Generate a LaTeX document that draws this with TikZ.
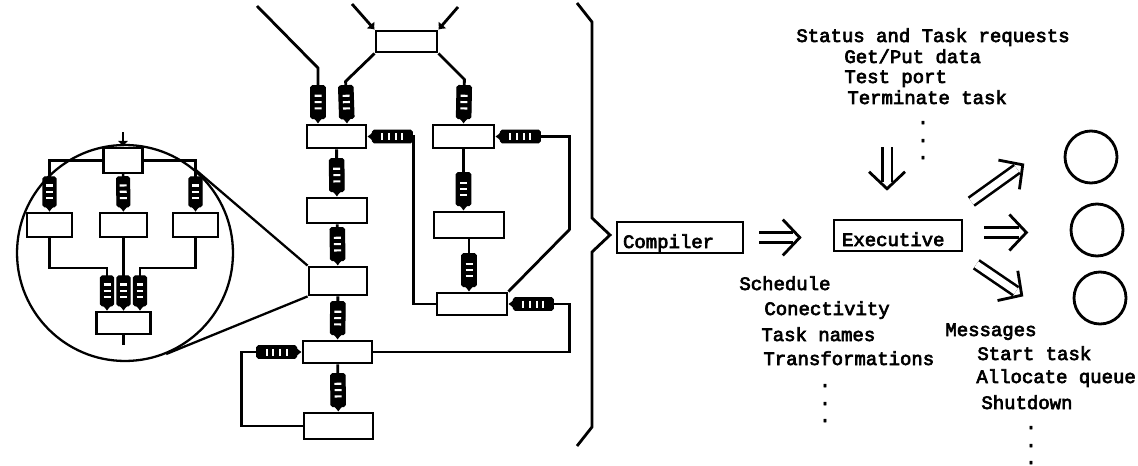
\documentclass[tikz,border=0pt]{standalone}
\usepackage{fontspec}
\setmonofont{Liberation Mono}[FakeBold=3.5]
\usetikzlibrary{arrows.meta,positioning,calc}

\newcommand{\qbar}{\rule[-0.07cm]{1.2pt}{0.14cm}}
\newcommand{\qbars}{\textcolor{white}{\qbar\hspace{2.4pt}\qbar\hspace{2.4pt}\qbar}}
\newcommand{\hqbars}{\textcolor{white}{\qbar\hspace{2.6pt}\qbar\hspace{2.6pt}\qbar\hspace{2.6pt}\qbar}}

\begin{document}
\begin{tikzpicture}[x=0.02cm, y=-0.02cm, line width=1.6pt,
  font=\ttfamily\fontsize{10.8}{13}\selectfont,
  task/.style={draw, rectangle, inner sep=0pt},
  flow/.style={-{Latex[length=0.12cm,width=0.22cm]}},
  queue/.style={fill=black, draw=black, line width=0.6pt, rounded corners=1pt, inner sep=0pt,
    minimum width=0.66cm, minimum height=0.29cm, outer xsep=0.1cm, outer ysep=0pt,
    pos=1, sloped, allow upside down, anchor=east},
  hqueue/.style={queue, minimum width=0.8cm, minimum height=0.25cm},
  sq/.style={queue, minimum width=0.6cm, minimum height=0.26cm},
  tbox/.style={draw, line width=1.5pt, minimum height=0.62cm, inner ysep=0pt, inner xsep=0.12cm,
    align=left, text height=0.42cm, text depth=0pt},
  dbl/.style={double, double distance=0.14cm, line width=1.5pt, shorten >=0.18cm},
  dblhead/.style={white, line width=0.1pt,
    -{Straight Barb[color=black, length=0.34cm, width=0.72cm, line width=1.6pt]}},
  lbl/.style={anchor=base west, inner sep=0pt},
  ]
\useasboundingbox (0,0) rectangle (1138,466);

% task graph
\node[task, minimum width=1.22cm, minimum height=0.42cm] (T) at (406.5,41.5) {};
\node[task, minimum width=1.18cm, minimum height=0.46cm] (A) at (336.5,136.5) {};
\node[task, minimum width=1.22cm, minimum height=0.46cm] (B) at (463.5,136.5) {};
\node[task, minimum width=1.2cm, minimum height=0.5cm] (D) at (337,210.5) {};
\node[task, minimum width=1.4cm, minimum height=0.52cm] (C) at (469,225) {};
\node[task, minimum width=1.16cm, minimum height=0.56cm] (M) at (338,281) {};
\node[task, minimum width=1.4cm, minimum height=0.44cm] (E) at (472,304) {};
\node[task, minimum width=1.38cm, minimum height=0.44cm] (G) at (337.5,352) {};
\node[task, minimum width=1.38cm, minimum height=0.52cm] (H) at (338.5,426) {};

\coordinate (in1) at (257,6);
\coordinate (in2) at (352,4);
\coordinate (in3) at (458,7);
\draw[flow] (in2) -- (T.north west);
\draw[flow] (in3) -- (T.north east);
\draw[flow] (in1) -- (318,68) -- node[queue]{\qbars} ([xshift=-0.37cm]A.north);
\draw[flow] (T.south west) -- ++(-29,28) -- node[queue]{\qbars} ([xshift=0.21cm]A.north);
\draw[flow] (T.south east) -- ++(26,26) -- node[queue]{\qbars} (B.north);
\draw[flow] (A) -- node[queue]{\qbars} (D);
\draw[flow] (D) -- node[queue]{\qbars} (M);
\draw[flow] (M) -- node[queue]{\qbars} (G);
\draw[flow] (G) -- node[queue]{\qbars} (H);
\draw[flow] (B.south) -- node[queue]{\qbars} (B.south |- C.north);
\draw[flow] (C.south) -- node[queue]{\qbars} (C.south |- E.north);
\draw[flow] (E.west) -- ++(-22,0) |- node[hqueue]{\hqbars} (A.east);
\draw[flow] (E.north east) -- ++(61,-62) |- node[hqueue]{\hqbars} (B.east);
\draw[flow] (G.east) -- ++(196,0) |- node[hqueue]{\hqbars} (E.east);
\draw[flow] (H.west) -- ++(-61,0) |- node[hqueue]{\hqbars} (G.west);

% zoom lens on M
\node[draw, circle, line width=1.3pt, minimum size=4.32cm, inner sep=0pt] (lens) at (125,253) {};
\draw[line width=1.3pt] (M.north west) -- (tangent cs:node=lens,point={(M.north west)},solution=1);
\draw[line width=1.3pt] (M.south west) -- (tangent cs:node=lens,point={(M.south west)},solution=2);

\begin{scope}[line width=1.4pt]
\node[task, minimum width=0.78cm, minimum height=0.5cm] (lt) at (123,160.5) {};
\node[task, minimum width=0.9cm, minimum height=0.48cm] (l1) at (49.5,225) {};
\node[task, minimum width=0.94cm, minimum height=0.48cm] (l2) at (123.5,225) {};
\node[task, minimum width=0.9cm, minimum height=0.48cm] (l3) at (195.5,225) {};
\node[task, minimum width=1.08cm, minimum height=0.44cm] (lb) at (123.5,323) {};
\coordinate (lin) at (123,132);
\coordinate (lout) at (123.5,345);
\draw[flow] (lin) -- (lt);
\draw[flow] (lt.west) -| node[sq]{\qbars} (l1.north);
\draw[flow] (lt) -- node[sq]{\qbars} (l2);
\draw[flow] (lt.east) -| node[sq]{\qbars} (l3.north);
\draw[flow] (l1.south) -- ++(0,30) -| node[sq]{\qbars} ([xshift=-0.33cm]lb.north);
\draw[flow] (l2) -- node[sq]{\qbars} (l2 |- lb.north);
\draw[flow] (l3.south) -- ++(0,30) -| node[sq]{\qbars} ([xshift=0.33cm]lb.north);
\draw (lb) -- (lout);
\end{scope}

% brace
\draw (577,3) -- (592,22) -- (592,218) -- (610,235) -- (592,252) -- (592,427) -- (577,446);

% compiler and executive
\node[tbox, text width=2.28cm, minimum width=2.52cm] (comp) at (680,237.5) {Compiler};
\node[tbox, text width=2.24cm, minimum width=2.56cm, inner xsep=0.16cm] (exec) at (898,235.5) {Executive};
\draw[dbl, shorten <=0.3cm, shorten >=0.8cm] (comp.east) -- (comp.east -| exec.west);
\draw[dblhead, shorten <=0.3cm, shorten >=0.62cm] (comp.east) -- (comp.east -| exec.west);
\coordinate (reqarr) at (887,147);
\draw[dbl, shorten >=0.74cm] (reqarr) -- (reqarr |- exec.north);
\draw[dblhead, shorten >=0.56cm] (reqarr) -- (reqarr |- exec.north);
\draw[dbl] ([shift={(8,-17)}]exec.north east) -- ++(53,-38);
\draw[dblhead] ([shift={(8,-17)}]exec.north east) -- ++(53,-38);
\draw[dbl] ([shift={(21,-3)}]exec.east) -- ++(44,0);
\draw[dblhead] ([shift={(21,-3)}]exec.east) -- ++(44,0);
\draw[dbl] ([shift={(13,12)}]exec.south east) -- ++(47,32);
\draw[dblhead] ([shift={(13,12)}]exec.south east) -- ++(47,32);

\node[draw, circle, minimum size=1.04cm, inner sep=0pt] (c1) at (1091,157) {};
\node[draw, circle, minimum size=1.04cm, inner sep=0pt] (c2) at (1097,230) {};
\node[draw, circle, minimum size=1.04cm, inner sep=0pt] (c3) at (1100,298) {};

% labels
\node[lbl] (sreq) at (795,42) {Status and Task requests};
\node[lbl] (sget) at (843,63) {Get/Put data};
\node[lbl] (stest) at (843,83) {Test port};
\node[lbl] (sterm) at (846,104) {Terminate task};
\foreach \y [count=\i] in {124,142,159}
  \node[inner sep=0pt, anchor=base] (sdot\i) at (923,\y) {.};

\node[lbl] (sched) at (738,290) {Schedule};
\node[lbl] (conn) at (763,315) {Conectivity};
\node[lbl] (tnames) at (760,341) {Task names};
\node[lbl] (trans) at (762,365) {Transformations};
\foreach \y [count=\i] in {387,405,422}
  \node[inner sep=0pt, anchor=base] (cdot\i) at (825,\y) {.};

\node[lbl] (msgs) at (944,336) {Messages};
\node[lbl] (mstart) at (976,360) {Start task};
\node[lbl] (malloc) at (975,383) {Allocate queue};
\node[lbl] (mshut) at (980,409) {Shutdown};
\foreach \y [count=\i] in {429,447,464}
  \node[inner sep=0pt, anchor=base] (mdot\i) at (1031,\y) {.};
\end{tikzpicture}
\end{document}
